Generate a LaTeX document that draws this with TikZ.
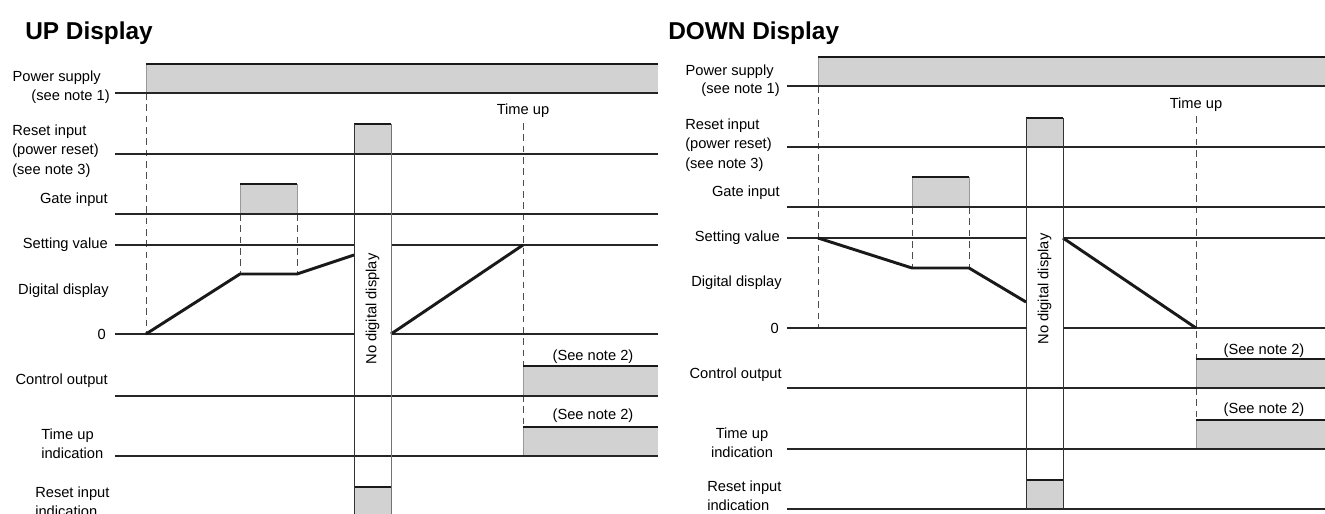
\documentclass[tikz,border=0pt]{standalone}
\usepackage{fontspec}
\setmainfont{Liberation Sans}
\usepackage{xcolor}

\begin{document}
\begin{tikzpicture}[x=0.75pt,y=-0.75pt,
    lbl/.style={inner sep=0pt,font=\fontsize{11}{14.6}\selectfont},
    ttl/.style={inner sep=0pt,anchor=base west,font=\fontsize{18.3}{20}\selectfont\bfseries},
    axis/.style={line width=1.1pt,black!85},
    hi/.style={fill=gray!35},
    hiside/.style={line width=0.6pt,gray!80},
    hitop/.style={line width=2.2pt,black!90},
    guide/.style={line width=0.6pt,black!70,dash pattern=on 5pt off 3.5pt},
    trace/.style={line width=2.2pt,black!90},
    gap/.style={line width=0.6pt,black!80}]
  \useasboundingbox (0,0) rectangle (1325,514);

  \node[ttl] (up) at (25,40) {UP Display};
  \node[ttl] (down) at (668,40) {DOWN Display};

  % UP display
  \draw[guide] (146,93) -- (146,334);
  \draw[guide] (240,214) -- (240,274);
  \draw[guide] (297,214) -- (297,274);
  \draw[guide] (523,123) -- (523,427);

  \foreach \xa/\xb/\yb/\yt in {146/658/93/64, 523/658/396/366, 523/658/456/427}{
    \fill[hi] (\xa,\yb) rectangle (\xb,\yt);
    \draw[hiside] (\xa,\yb) -- (\xa,\yt);
    \draw[hitop] (\xa,\yt) -- (\xb,\yt);
  }
  \foreach \xa/\xb/\yb/\yt in {240/297/214/184, 354/391/154/124, 354/391/517/487}{
    \fill[hi] (\xa,\yb) rectangle (\xb,\yt);
    \draw[hiside] (\xa,\yb) |- (\xb,\yt) -- (\xb,\yb);
    \draw[hitop] (\xa,\yt) -- (\xb,\yt);
  }

  \foreach \y in {93,154,214,396,456,517}
    \draw[axis] (115,\y) -- (658,\y);
  \foreach \y in {245,334}{
    \draw[axis] (115,\y) -- (354,\y);
    \draw[axis] (391,\y) -- (658,\y);
  }

  \draw[trace] (146,334) -- (240,274) -- (297,274) -- (354,255);
  \draw[trace] (391,334) -- (523,245);
  \draw[gap] (354,124) -- (354,520);
  \draw[gap,black!55] (391,124) -- (391,520);
  \node[lbl,rotate=90] (nodispL) at (372.5,309) {No digital display};

  \node[lbl,anchor=east] (psL) at (101,78) {Power supply};
  \node[lbl,anchor=east] (psnL) at (110,97) {(see note 1)};
  \node[lbl,anchor=west,align=left] (riL) at (12,151) {Reset input\\(power reset)\\(see note 3)};
  \node[lbl,anchor=east] (giL) at (108,200) {Gate input};
  \node[lbl,anchor=east] (svL) at (108,245) {Setting value};
  \node[lbl,anchor=east] (ddL) at (109,291) {Digital display};
  \node[lbl,anchor=east] (zeroL) at (106,334) {0};
  \node[lbl,anchor=east] (coL) at (108,381) {Control output};
  \node[lbl,anchor=west,align=left] (tuL) at (41,444) {Time up\\indication};
  \node[lbl,anchor=west,align=left] (rdL) at (35,502) {Reset input\\indication};
  \node[lbl] (tupL) at (523,111) {Time up};
  \node[lbl] (n2aL) at (593,357) {(See note 2)};
  \node[lbl] (n2bL) at (593,416) {(See note 2)};

  % DOWN display
  \draw[guide] (818,86) -- (818,328);
  \draw[guide] (912,207) -- (912,268);
  \draw[guide] (969,207) -- (969,268);
  \draw[guide] (1196,116) -- (1196,420);

  \foreach \xa/\xb/\yb/\yt in {818/1325/86/57, 1196/1325/388/359, 1196/1325/449/420}{
    \fill[hi] (\xa,\yb) rectangle (\xb,\yt);
    \draw[hiside] (\xa,\yb) -- (\xa,\yt);
    \draw[hitop] (\xa,\yt) -- (\xb,\yt);
  }
  \foreach \xa/\xb/\yb/\yt in {912/969/207/177, 1026/1063/147/118, 1026/1063/509/480}{
    \fill[hi] (\xa,\yb) rectangle (\xb,\yt);
    \draw[hiside] (\xa,\yb) |- (\xb,\yt) -- (\xb,\yb);
    \draw[hitop] (\xa,\yt) -- (\xb,\yt);
  }

  \foreach \y in {86,147,207,388,449,509}
    \draw[axis] (787,\y) -- (1325,\y);
  \foreach \y in {238,328}{
    \draw[axis] (787,\y) -- (1026,\y);
    \draw[axis] (1063,\y) -- (1325,\y);
  }

  \draw[trace] (818,238) -- (912,268) -- (969,268) -- (1026,302);
  \draw[trace] (1063,238) -- (1196,328);
  \draw[gap] (1026,118) -- (1026,509);
  \draw[gap] (1063,118) -- (1063,509);
  \node[lbl,rotate=90] (nodispR) at (1044.5,289) {No digital display};

  \node[lbl,anchor=east] (psR) at (774,72) {Power supply};
  \node[lbl,anchor=east] (psnR) at (780,90) {(see note 1)};
  \node[lbl,anchor=west,align=left] (riR) at (685,145) {Reset input\\(power reset)\\(see note 3)};
  \node[lbl,anchor=east] (giR) at (780,193) {Gate input};
  \node[lbl,anchor=east] (svR) at (780,238) {Setting value};
  \node[lbl,anchor=east] (ddR) at (782,283) {Digital display};
  \node[lbl,anchor=east] (zeroR) at (779,328) {0};
  \node[lbl,anchor=east] (coR) at (782,375) {Control output};
  \node[lbl,align=center] (tuR) at (742,443) {Time up\\indication};
  \node[lbl,anchor=west,align=left] (rdR) at (707,496) {Reset input\\indication};
  \node[lbl] (tupR) at (1196,105) {Time up};
  \node[lbl] (n2aR) at (1264,351) {(See note 2)};
  \node[lbl] (n2bR) at (1264,410) {(See note 2)};
\end{tikzpicture}
\end{document}
